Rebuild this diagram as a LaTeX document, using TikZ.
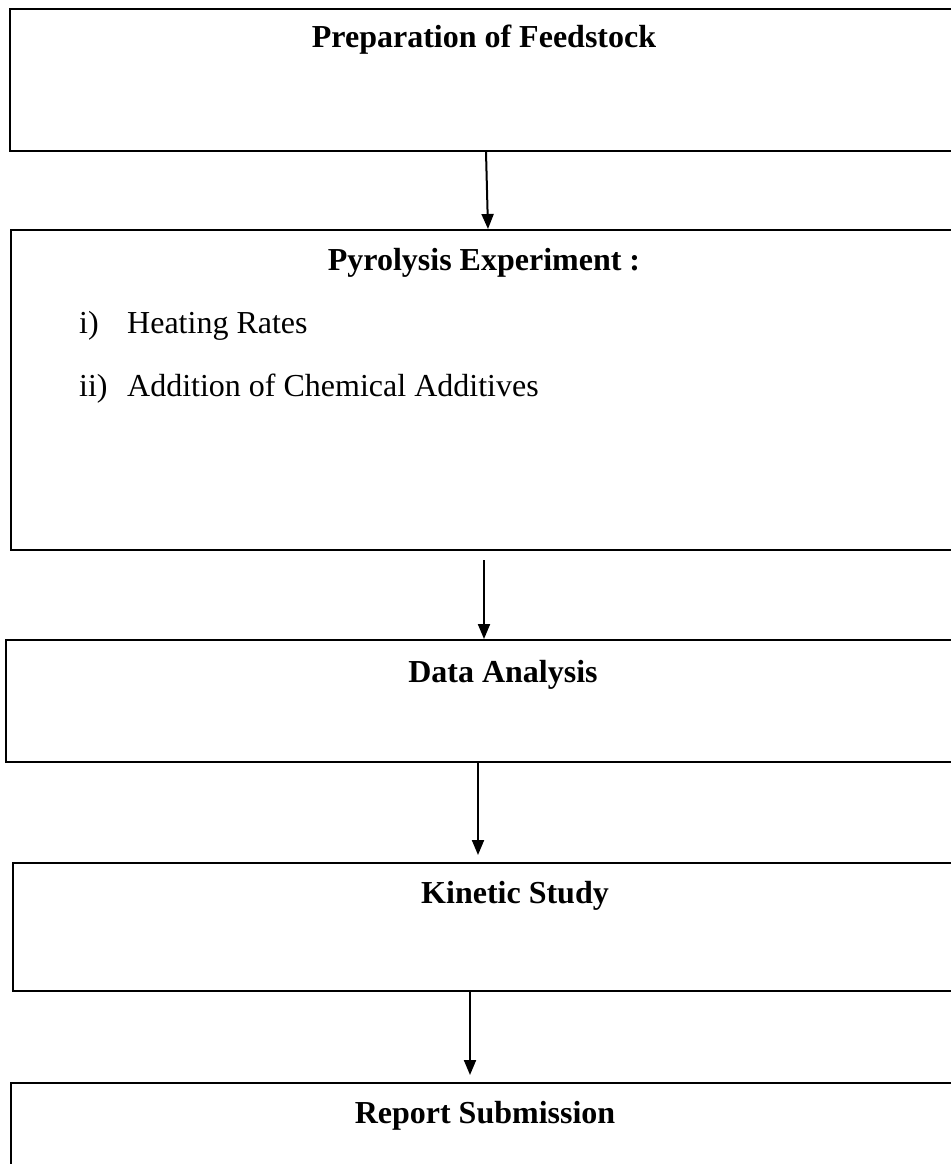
\documentclass[tikz,border=0pt]{standalone}
\usepackage{fontspec}
\setmainfont{Liberation Serif}
\usetikzlibrary{arrows.meta}
\begin{document}
\begin{tikzpicture}[x=1pt,y=-1pt,
  box/.style={draw=black,line width=2pt,rectangle,inner sep=0pt,anchor=north west},
  ttl/.style={font=\fontsize{32}{38}\selectfont\bfseries,anchor=base,inner sep=0pt},
  itm/.style={font=\fontsize{32}{38}\selectfont,anchor=base west,inner sep=0pt},
  arr/.style={line width=2pt,-{Triangle[length=15pt,width=12pt]}}]
\useasboundingbox (0,0) rectangle (950,1164);
% boxes
\node[box,minimum width=960pt,minimum height=142pt] (b1) at (9,8) {};
\node[box,minimum width=960pt,minimum height=320pt] (b2) at (10,229) {};
\node[box,minimum width=960pt,minimum height=122pt] (b3) at (5,639) {};
\node[box,minimum width=960pt,minimum height=128pt] (b4) at (12,862) {};
\node[box,minimum width=960pt,minimum height=120pt] (b5) at (10,1082) {};
% texts
\node[ttl] (t1) at (484,48) {Preparation of Feedstock};
\node[ttl] (t2) at (484,270) {Pyrolysis Experiment :};
\node[itm] (i1n) at (79,333) {i)};
\node[itm] (i1) at (127,333) {Heating Rates};
\node[itm] (i2n) at (79,396) {ii)};
\node[itm] (i2) at (127,396) {Addition of Chemical Additives};
\node[ttl] (t3) at (503,682) {Data Analysis};
\node[ttl] (t4) at (515,903) {Kinetic Study};
\node[ttl] (t5) at (485,1123) {Report Submission};
% arrows
\draw[arr] ([xshift=477pt]b1.south west) -- ([xshift=478pt]b2.north west);
\draw[arr] ([xshift=474pt,yshift=-9pt]b2.south west) -- ([xshift=479pt]b3.north west);
\draw[arr] ([xshift=473pt]b3.south west) -- ([xshift=466pt,yshift=7pt]b4.north west);
\draw[arr] ([xshift=458pt]b4.south west) -- ([xshift=460pt,yshift=7pt]b5.north west);
\end{tikzpicture}
\end{document}
